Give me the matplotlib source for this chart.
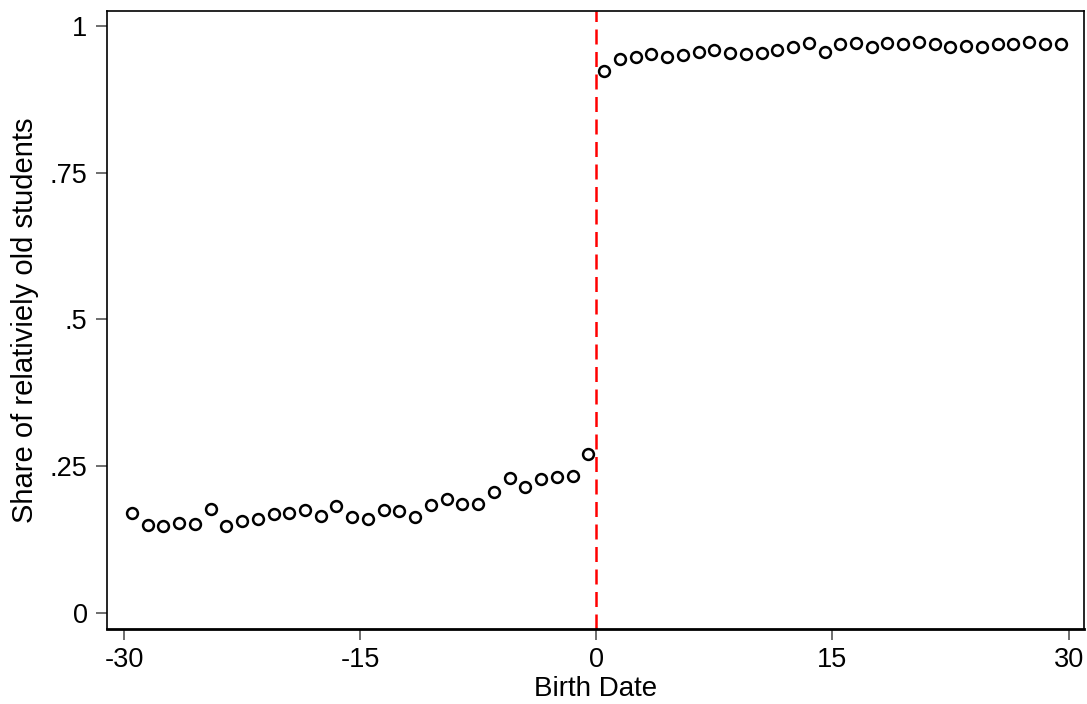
import numpy as np
import matplotlib
matplotlib.use("Agg")
import matplotlib.pyplot as plt

plt.rcParams["font.family"] = ["Liberation Sans", "DejaVu Sans"]

# binned birth dates (days from cutoff) and share of relatively old students
birth_date = np.arange(-29.5, 30, 1.0)
share_old = [
    0.170, 0.150, 0.148, 0.154, 0.152, 0.177, 0.148, 0.157, 0.160, 0.169,
    0.171, 0.175, 0.165, 0.182, 0.163, 0.160, 0.175, 0.173, 0.163, 0.184,
    0.194, 0.186, 0.186, 0.206, 0.230, 0.215, 0.228, 0.232, 0.234, 0.270,
    0.922, 0.944, 0.947, 0.951, 0.947, 0.950, 0.956, 0.959, 0.953, 0.951,
    0.953, 0.959, 0.964, 0.970, 0.956, 0.969, 0.971, 0.963, 0.971, 0.969,
    0.972, 0.968, 0.963, 0.965, 0.963, 0.969, 0.969, 0.972, 0.968, 0.968,
]
cutoff = 0
x_ticks = [-30, -15, 0, 15, 30]
y_ticks = [0, 0.25, 0.5, 0.75, 1]
y_tick_labels = ["0", ".25", ".5", ".75", "1"]

fig = plt.figure(figsize=(10.87, 7.04), dpi=100)
ax = fig.add_axes([0.0984, 0.1061, 0.8991, 0.8787])

ax.plot(birth_date, share_old, linestyle="none", marker="o", markersize=7.8,
        markerfacecolor="none", markeredgecolor="black", markeredgewidth=1.8)
ax.axvline(cutoff, color="#ff0000", lw=1.8, dashes=(6, 3))

ax.set_xlim(-31.08, 31.0)
ax.set_ylim(-0.0278, 1.0255)
ax.set_xticks(x_ticks)
ax.set_xticklabels([str(t) for t in x_ticks])
ax.set_yticks(y_ticks)
ax.set_yticklabels(y_tick_labels)

ax.tick_params(axis="both", direction="out", length=8, width=1.2,
               color="#555555", labelsize=19.5, pad=5)
ax.tick_params(axis="y", pad=6)
for s in ax.spines.values():
    s.set_linewidth(1.2)
ax.spines["bottom"].set_linewidth(2.0)

ax.set_xlabel("Birth Date", fontsize=20, labelpad=2)
ax.set_ylabel("Share of relativiely old students", fontsize=21, labelpad=8)

fig.savefig("out.png", dpi=100)
